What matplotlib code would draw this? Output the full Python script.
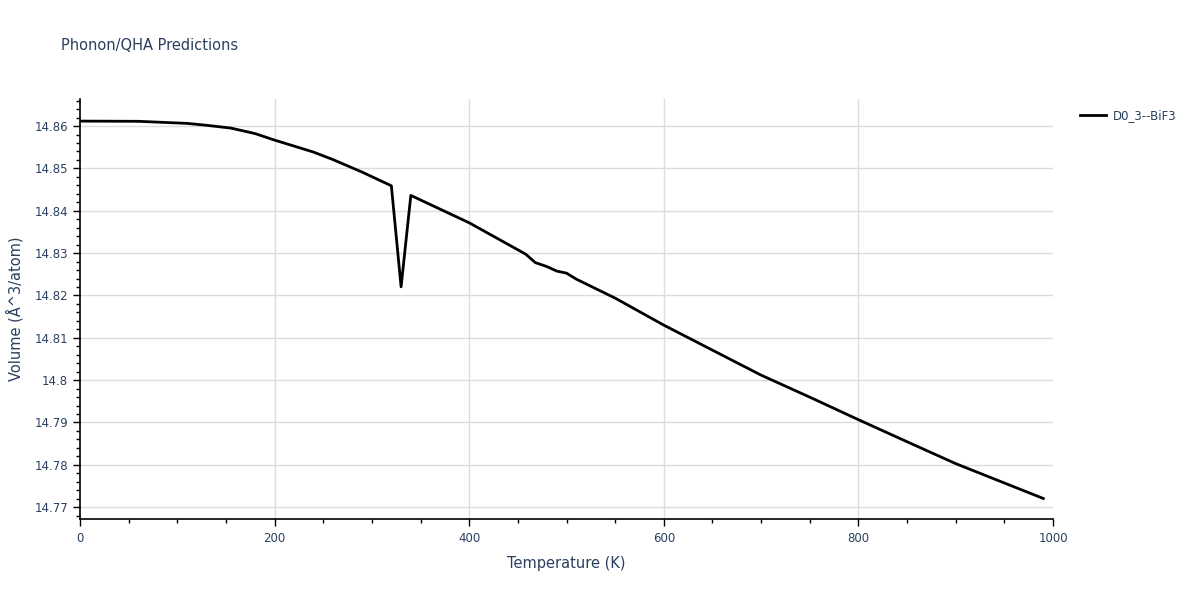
import matplotlib
matplotlib.use("Agg")
import matplotlib.pyplot as plt
from matplotlib.ticker import MultipleLocator, FuncFormatter

temperature = [0, 60, 110, 130, 155, 180, 200, 220, 240, 260, 290, 320, 330, 340,
               400, 458, 468, 480, 490, 500, 510, 550, 600, 650, 700, 750, 800,
               850, 900, 990]
volume = [14.86118, 14.86113, 14.86064, 14.86019, 14.85953, 14.85823, 14.85669,
          14.85528, 14.85386, 14.85209, 14.84913, 14.84590, 14.82204, 14.84363,
          14.83716, 14.82976, 14.82775, 14.82681, 14.82575, 14.82527, 14.82386,
          14.81937, 14.81299, 14.80708, 14.80118, 14.79598, 14.79066, 14.78545,
          14.78028, 14.77205]
series_name = "D0_3--BiF3"

text_color = "#2a3f5f"
plt.rcParams['font.family'] = ['DejaVu Sans']

fig = plt.figure(figsize=(12, 6), dpi=100)
ax = fig.add_axes([80/1200, 1 - 519/600, (1053 - 80)/1200, (519 - 99)/600])

ax.plot(temperature, volume, color="black", linewidth=2, label=series_name, zorder=3)

ax.set_xlim(0, 1000)
ax.set_ylim(14.7672, 14.8664)

ax.xaxis.set_major_locator(MultipleLocator(200))
ax.xaxis.set_minor_locator(MultipleLocator(50))
ax.yaxis.set_major_locator(MultipleLocator(0.01))
ax.yaxis.set_minor_locator(MultipleLocator(0.002))

def yfmt(v, pos):
    s = f"{v:.2f}".rstrip("0").rstrip(".")
    return s
ax.yaxis.set_major_formatter(FuncFormatter(yfmt))

ax.grid(True, which="major", color="#dcdcdc", linewidth=1, zorder=0)
fig.canvas.draw()
for tk, gl in zip(ax.get_xticks(), ax.get_xgridlines()):
    if tk >= 1000 or tk <= 0:
        gl.set_visible(False)

for side in ["top", "right"]:
    ax.spines[side].set_visible(False)
for side in ["left", "bottom"]:
    ax.spines[side].set_color("black")
    ax.spines[side].set_linewidth(1.2)

ax.tick_params(axis="both", which="major", direction="out", length=5, width=1,
               color="black", labelcolor=text_color, labelsize=8.5)
ax.tick_params(axis="both", which="minor", direction="out", length=3, width=1,
               color="black")
ax.tick_params(axis="x", pad=4)

ax.set_xlabel("Temperature (K)", color=text_color, fontsize=10.5, labelpad=8)
ax.set_ylabel("Volume (Å^3/atom)", color=text_color, fontsize=10.5, labelpad=8)

fig.text(61/1200, 1 - 45/600, "Phonon/QHA Predictions", color=text_color,
         fontsize=10.5, va="center", ha="left")

leg = ax.legend(loc="upper left", bbox_to_anchor=(1075/1200, 1 - 104/600),
                bbox_transform=fig.transFigure, frameon=False, fontsize=8.5,
                handlelength=2.2, handletextpad=0.6, borderaxespad=0)
for t in leg.get_texts():
    t.set_color(text_color)

fig.savefig("out.png", dpi=100)
